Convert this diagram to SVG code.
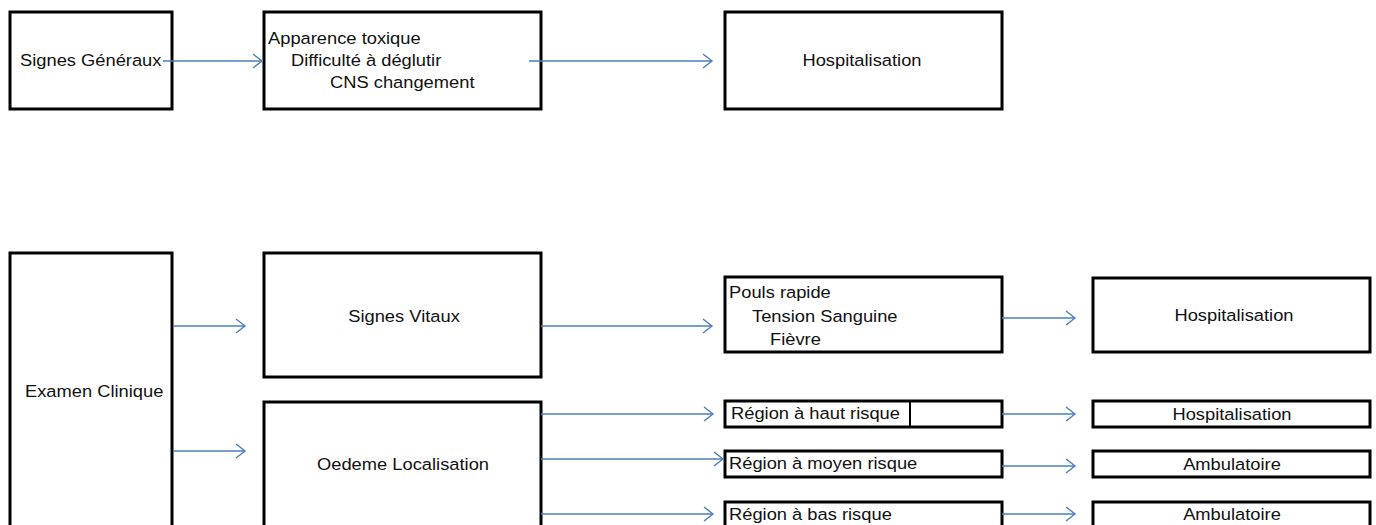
<svg xmlns="http://www.w3.org/2000/svg" width="1376" height="525" viewBox="0 0 1376 525">
<style>
.box{fill:#fff;stroke:#000;stroke-width:3}
.t{font-family:"Liberation Sans",Arial,sans-serif;font-size:16.5px;fill:#111}
.c{text-anchor:middle}
.con{fill:none;stroke:#4a7ebb;stroke-width:1.4}
</style>
<defs>
<marker id="ah" markerWidth="14" markerHeight="18" viewBox="-12 -9 14 18" refX="0" refY="0" orient="auto" markerUnits="userSpaceOnUse">
<path d="M-9,-7 L0,0 L-9,7" fill="none" stroke="#4a7ebb" stroke-width="1.4"/>
</marker>
</defs>
<rect width="1376" height="525" fill="#fff"/>
<g id="n-signes-generaux">
<rect class="box" x="10" y="12" width="162" height="97"/>
<text class="t" transform="translate(20,66) scale(1.11,1)">Signes Généraux</text>
</g>
<g id="n-apparence">
<rect class="box" x="264" y="12" width="277" height="97"/>
<text class="t" transform="translate(268,44) scale(1.11,1)">Apparence toxique</text>
<text class="t" transform="translate(291,66) scale(1.11,1)">Difficulté à déglutir</text>
<text class="t" transform="translate(330,88) scale(1.11,1)">CNS changement</text>
</g>
<g id="n-hosp-top">
<rect class="box" x="725" y="12" width="277" height="97"/>
<text class="t c" transform="translate(862,66) scale(1.11,1)">Hospitalisation</text>
</g>
<g id="n-examen">
<rect class="box" x="10" y="253" width="162" height="280"/>
<text class="t" transform="translate(25,397) scale(1.11,1)">Examen Clinique</text>
</g>
<g id="n-signes-vitaux">
<rect class="box" x="264" y="253" width="277" height="124"/>
<text class="t c" transform="translate(404,322) scale(1.11,1)">Signes Vitaux</text>
</g>
<g id="n-oedeme">
<rect class="box" x="264" y="402" width="277" height="130"/>
<text class="t c" transform="translate(403,470) scale(1.11,1)">Oedeme Localisation</text>
</g>
<g id="n-pouls">
<rect class="box" x="725" y="277" width="277" height="75"/>
<text class="t" transform="translate(729,298) scale(1.11,1)">Pouls rapide</text>
<text class="t" transform="translate(752,322) scale(1.11,1)">Tension Sanguine</text>
<text class="t" transform="translate(770,345) scale(1.11,1)">Fièvre</text>
</g>
<g id="n-hosp-mid">
<rect class="box" x="1093" y="278" width="277" height="74"/>
<text class="t c" transform="translate(1234,321) scale(1.11,1)">Hospitalisation</text>
</g>
<g id="n-haut">
<rect class="box" x="725" y="401" width="277" height="26"/>
<line x1="910" y1="401" x2="910" y2="427" stroke="#000" stroke-width="2"/>
<text class="t" transform="translate(731,419) scale(1.11,1)">Région à haut risque</text>
</g>
<g id="n-moyen">
<rect class="box" x="725" y="451" width="277" height="26"/>
<text class="t" transform="translate(729,469) scale(1.11,1)">Région à moyen risque</text>
</g>
<g id="n-bas">
<rect class="box" x="725" y="502" width="277" height="30"/>
<text class="t" transform="translate(729,520) scale(1.11,1)">Région à bas risque</text>
</g>
<g id="n-hosp-bot">
<rect class="box" x="1093" y="401" width="277" height="26"/>
<text class="t c" transform="translate(1232,420) scale(1.11,1)">Hospitalisation</text>
</g>
<g id="n-ambu1">
<rect class="box" x="1093" y="451" width="277" height="26"/>
<text class="t c" transform="translate(1232,470) scale(1.11,1)">Ambulatoire</text>
</g>
<g id="n-ambu2">
<rect class="box" x="1093" y="502" width="277" height="30"/>
<text class="t c" transform="translate(1232,520) scale(1.11,1)">Ambulatoire</text>
</g>
<g id="connectors">
<line class="con" x1="163" y1="61" x2="262" y2="61" marker-end="url(#ah)"/>
<line class="con" x1="529" y1="61" x2="712" y2="61" marker-end="url(#ah)"/>
<line class="con" x1="173" y1="326" x2="245" y2="326" marker-end="url(#ah)"/>
<line class="con" x1="173" y1="451" x2="245" y2="451" marker-end="url(#ah)"/>
<line class="con" x1="541" y1="326" x2="712" y2="326" marker-end="url(#ah)"/>
<line class="con" x1="1002" y1="318" x2="1075" y2="318" marker-end="url(#ah)"/>
<line class="con" x1="541" y1="414" x2="713" y2="414" marker-end="url(#ah)"/>
<line class="con" x1="541" y1="459" x2="723" y2="459" marker-end="url(#ah)"/>
<line class="con" x1="541" y1="514" x2="713" y2="514" marker-end="url(#ah)"/>
<line class="con" x1="1002" y1="414" x2="1075" y2="414" marker-end="url(#ah)"/>
<line class="con" x1="1002" y1="466" x2="1075" y2="466" marker-end="url(#ah)"/>
<line class="con" x1="1002" y1="514" x2="1075" y2="514" marker-end="url(#ah)"/>
</g>
</svg>
